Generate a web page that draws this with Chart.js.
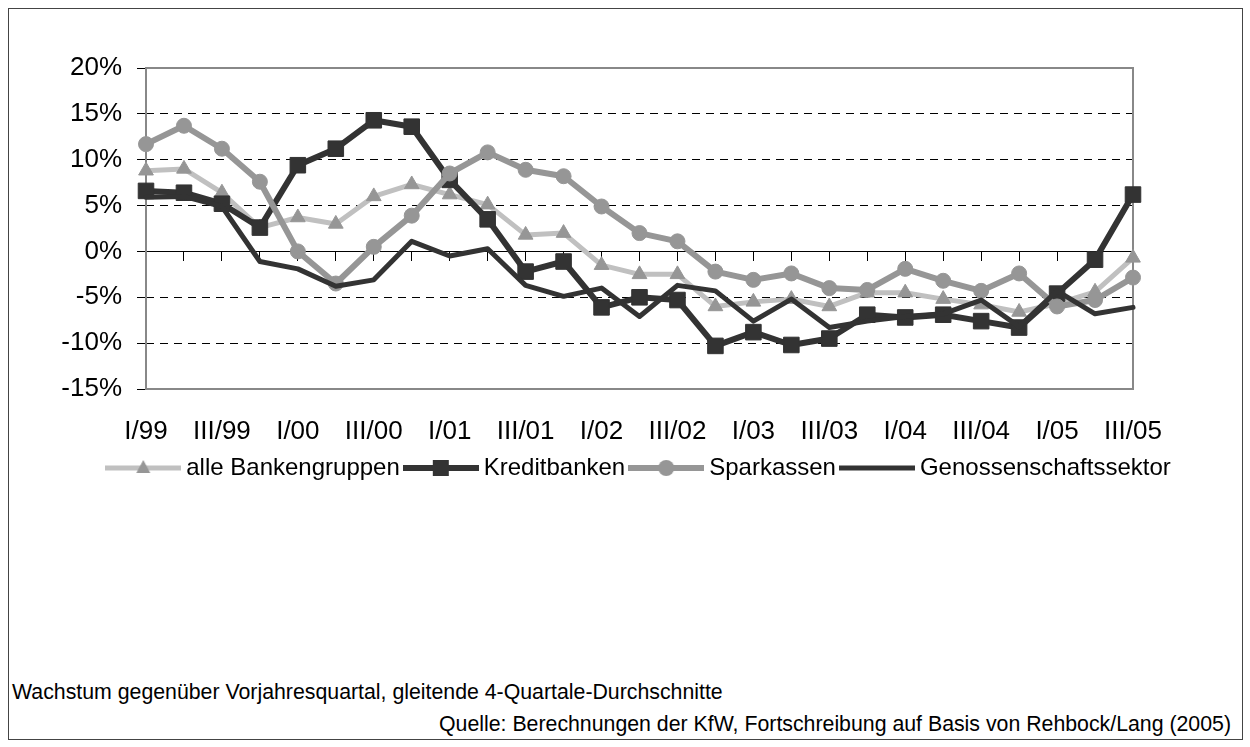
<!DOCTYPE html>
<html>
<head>
<meta charset="utf-8">
<script src="https://cdn.jsdelivr.net/npm/chart.js@4.4.1/dist/chart.umd.min.js"></script>
<style>
  html, body { margin: 0; padding: 0; background: #fff; }
  #wrap { position: relative; width: 1250px; height: 747px; overflow: hidden; font-family: "Liberation Sans", Arial, sans-serif; }
  #frame { position: absolute; left: 8px; top: 8px; width: 1235px; height: 732px; border: 1px solid #444; box-sizing: border-box; }
  #c { position: absolute; left: 0; top: 0; }
  .note { position: absolute; font-size: 21.3px; color: #000; white-space: nowrap; line-height: 1; }
</style>
</head>
<body>
<div id="wrap">
  <div id="frame"></div>
  <canvas id="c" width="1250" height="500"></canvas>
  <div class="note" style="left:12px; top:682px;">Wachstum gegenüber Vorjahresquartal, gleitende 4-Quartale-Durchschnitte</div>
  <div class="note" style="right:19px; top:714px;">Quelle: Berechnungen der KfW, Fortschreibung auf Basis von Rehbock/Lang (2005)</div>
</div>
<script>
// ---- data ----
const categories = ['I/99','II/99','III/99','IV/99','I/00','II/00','III/00','IV/00','I/01','II/01','III/01','IV/01',
  'I/02','II/02','III/02','IV/02','I/03','II/03','III/03','IV/03','I/04','II/04','III/04','IV/04','I/05','II/05','III/05'];
const alleBankengruppen = [8.8, 9.0, 6.4, 2.6, 3.7, 3.0, 6.0, 7.3, 6.2, 5.1, 1.8, 2.0, -1.5, -2.5, -2.5, -6.0,
  -5.5, -5.2, -6.0, -4.5, -4.5, -5.2, -5.8, -6.6, -5.7, -4.4, -0.7];
const kreditbanken = [6.6, 6.4, 5.2, 2.6, 9.4, 11.2, 14.3, 13.6, 7.8, 3.5, -2.2, -1.1, -6.1, -5.0, -5.3, -10.3,
  -8.8, -10.2, -9.5, -6.9, -7.2, -6.9, -7.6, -8.3, -4.6, -0.9, 6.2];
const sparkassen = [11.7, 13.7, 11.2, 7.6, 0.0, -3.5, 0.5, 3.9, 8.5, 10.8, 8.9, 8.2, 4.9, 2.0, 1.1, -2.2,
  -3.1, -2.4, -4.0, -4.2, -1.9, -3.2, -4.3, -2.4, -6.0, -5.3, -2.85];
const genossenschaftssektor = [5.9, 6.0, 4.9, -1.1, -1.9, -3.8, -3.1, 1.1, -0.5, 0.3, -3.7, -4.9, -4.0, -7.1, -3.7, -4.3,
  -7.6, -5.2, -8.3, -7.6, -7.1, -6.8, -5.3, -8.2, -4.3, -6.8, -6.1];
const seriesNames = ['alle Bankengruppen', 'Kreditbanken', 'Sparkassen', 'Genossenschaftssektor'];
const yMin = -15, yMax = 20, yStep = 5;

const FONT = "'Liberation Sans', Arial, sans-serif";
Chart.defaults.font.family = FONT;
Chart.defaults.color = '#000';

// legend icons (line sample with marker)
function makeIcon(lineColor, lineWidth, markerColor, marker) {
  const c = document.createElement('canvas');
  c.width = 76; c.height = 22;
  const g = c.getContext('2d');
  g.strokeStyle = lineColor; g.lineWidth = lineWidth;
  g.beginPath(); g.moveTo(0, 11); g.lineTo(76, 11); g.stroke();
  g.fillStyle = markerColor;
  if (marker === 'triangle') {
    g.beginPath(); g.moveTo(38, 3); g.lineTo(45, 16); g.lineTo(31, 16); g.closePath(); g.fill();
  } else if (marker === 'rect') {
    g.fillRect(30, 3, 16, 16);
  } else if (marker === 'circle') {
    g.beginPath(); g.arc(38, 11, 8, 0, Math.PI * 2); g.fill();
  }
  return c;
}
const icons = [
  makeIcon('#C0C0C0', 5, '#969696', 'triangle'),
  makeIcon('#333333', 6, '#333333', 'rect'),
  makeIcon('#969696', 6, '#969696', 'circle'),
  makeIcon('#333333', 5, '#333333', null)
];

const framePlugin = {
  id: 'plotFrame',
  beforeDatasetsDraw(chart) {
    const { ctx, chartArea: a } = chart;
    ctx.save();
    ctx.strokeStyle = '#888888';
    ctx.lineWidth = 2;
    ctx.strokeRect(a.left, a.top, a.right - a.left, a.bottom - a.top);
    ctx.restore();
  }
};

const common = { tension: 0, clip: false, borderJoinStyle: 'round', borderCapStyle: 'round', pointHoverRadius: 0 };

new Chart(document.getElementById('c'), {
  type: 'line',
  data: {
    labels: categories,
    datasets: [
      Object.assign({ label: seriesNames[0], data: alleBankengruppen, borderColor: '#C0C0C0', borderWidth: 5,
        pointStyle: 'triangle', pointRadius: 8.5, pointBackgroundColor: '#969696', pointBorderColor: '#969696', pointBorderWidth: 1, order: 4 }, common),
      Object.assign({ label: seriesNames[1], data: kreditbanken, borderColor: '#333333', borderWidth: 6,
        pointStyle: 'rect', pointRadius: 11, pointBackgroundColor: '#333333', pointBorderColor: '#333333', pointBorderWidth: 1, order: 3 }, common),
      Object.assign({ label: seriesNames[2], data: sparkassen, borderColor: '#969696', borderWidth: 6,
        pointStyle: 'circle', pointRadius: 7.5, pointBackgroundColor: '#969696', pointBorderColor: '#969696', pointBorderWidth: 1, order: 2 }, common),
      Object.assign({ label: seriesNames[3], data: genossenschaftssektor, borderColor: '#333333', borderWidth: 5,
        pointRadius: 0, order: 1 }, common)
    ]
  },
  options: {
    responsive: false,
    animation: false,
    events: [],
    layout: { padding: { left: 33, right: 0, top: 68, bottom: 10 } },
    plugins: {
      tooltip: { enabled: false },
      legend: {
        position: 'bottom',
        labels: {
          usePointStyle: true,
          pointStyleWidth: 62,
          boxHeight: 24,
          padding: 10,
          color: '#000',
          font: { size: 24, family: FONT },
          generateLabels: (chart) => chart.data.datasets.map((ds, i) => ({
            text: ds.label, pointStyle: icons[i], fillStyle: 'rgba(0,0,0,0)', strokeStyle: 'rgba(0,0,0,0)',
            lineWidth: 0, hidden: false, datasetIndex: i, fontColor: '#000'
          }))
        }
      }
    },
    scales: {
      x: {
        type: 'category', position: 'bottom', offset: false,
        grid: { display: false }, border: { display: false },
        ticks: { autoSkip: false, maxRotation: 0, minRotation: 0, padding: 19, color: '#000',
          font: { size: 26, family: FONT },
          callback: (v, i) => (i % 2 === 0 ? categories[i] : '') },
        afterFit: (s) => { s.height = 57; }
      },
      x0: {
        type: 'category', position: { y: 0 }, offset: false,
        grid: { display: true, drawOnChartArea: false, drawTicks: true, tickLength: 9, tickColor: '#000', tickWidth: 1 },
        border: { display: true, color: '#000', width: 1 },
        ticks: { display: false }
      },
      y: {
        position: 'left', min: yMin, max: yMax,
        ticks: { stepSize: yStep, padding: 15, color: '#000', font: { size: 26, family: FONT }, callback: (v) => v + '%' },
        grid: { color: '#000', lineWidth: 1, drawTicks: true, tickLength: 9, tickColor: '#000', tickWidth: 1 },
        border: { display: false, dash: (ctx) => (ctx.tick && ctx.tick.value === 0 ? [] : [8, 6]) },
        afterFit: (s) => { s.width = 113; }
      },
      yR: {
        position: 'right', min: yMin, max: yMax,
        ticks: { display: false }, grid: { display: false }, border: { display: false },
        afterFit: (s) => { s.width = 117; }
      }
    }
  },
  plugins: [framePlugin]
});
</script>
</body>
</html>
